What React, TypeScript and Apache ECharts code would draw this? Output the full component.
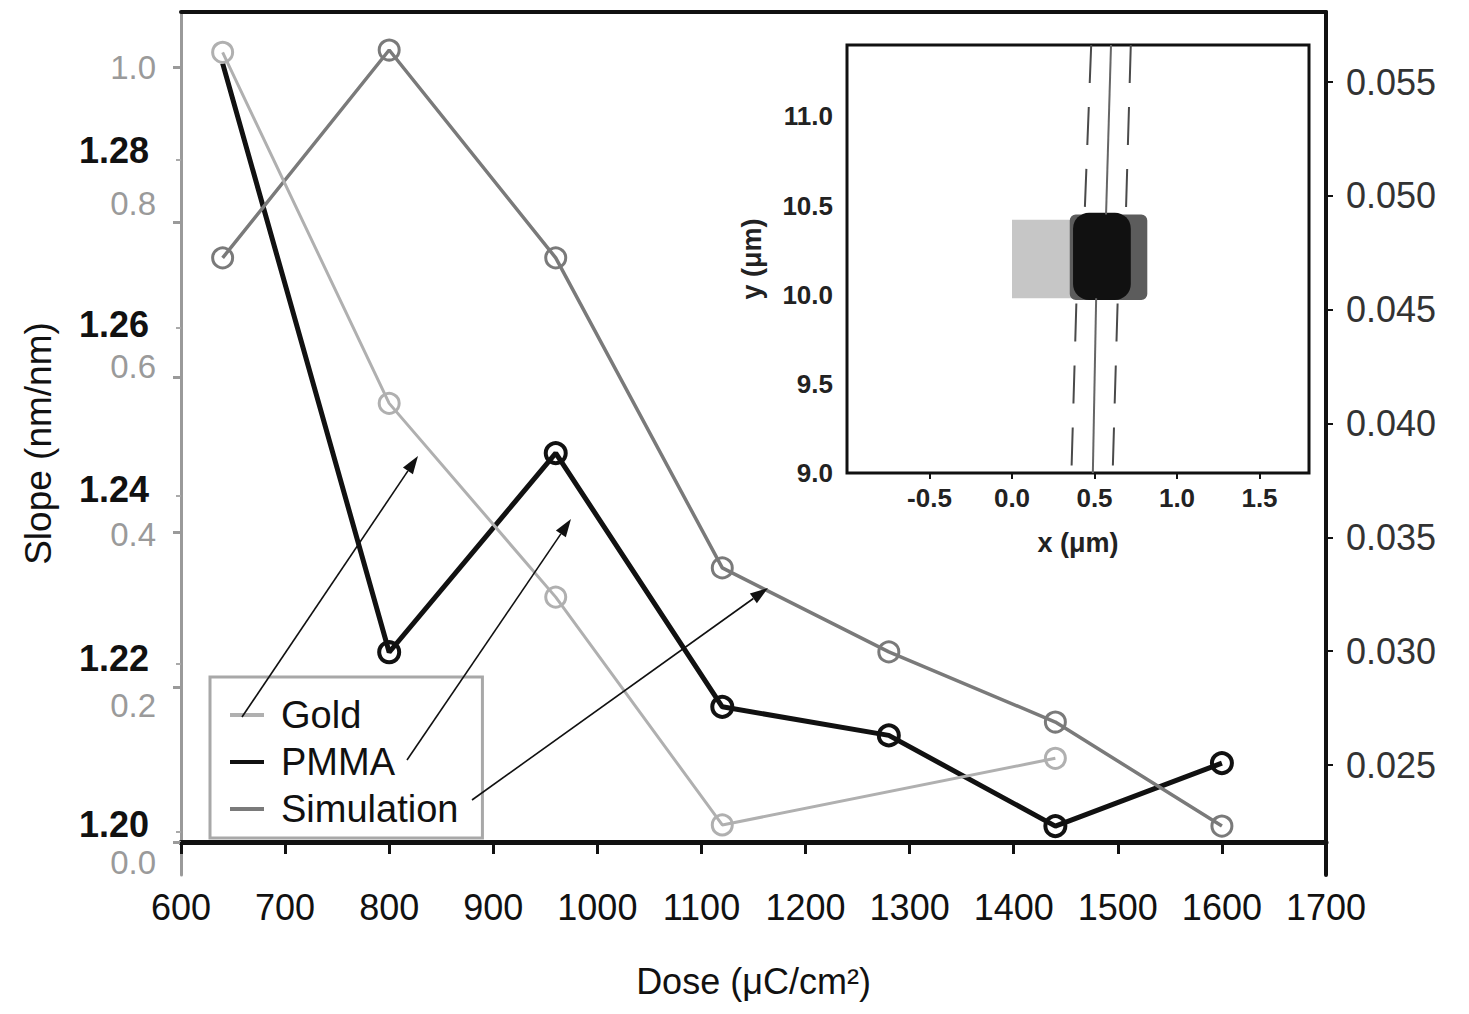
import React, { useEffect, useRef } from 'react';
import * as echarts from 'echarts';

// ---------- main chart data ----------
const doses = [640, 800, 960, 1120, 1280, 1440, 1600];
const goldDoses = [640, 800, 960, 1120, 1440];
const goldSlope = [1.019, 0.566, 0.316, 0.022, 0.108];
const pmmaSlope = [1.2915, 1.2214, 1.2451, 1.2149, 1.2115, 1.2007, 1.2082];
const simSlope = [0.04728, 0.05641, 0.04728, 0.03366, 0.02997, 0.02689, 0.02232];

const goldTicks = [0, 0.2, 0.4, 0.6, 0.8, 1.0];
const pmmaTicks = [1.2, 1.22, 1.24, 1.26, 1.28];
const simTicks = [0.025, 0.03, 0.035, 0.04, 0.045, 0.05, 0.055];

// ---------- inset data (x, y in µm) ----------
const insetXTicks = [-0.5, 0, 0.5, 1.0, 1.5];
const padX0 = [0.0, 0.35, 0.37];
const padX1 = [0.36, 0.82, 0.72];
const padY0 = [9.98, 9.97, 9.97];
const padY1 = [10.42, 10.45, 10.46];
const contourCenter = [
  [[0.6, 11.4], [0.57, 10.45]],
  [[0.51, 9.98], [0.49, 9.0]],
];
const contourLeft = [
  [[0.48, 11.4], [0.44, 10.45]],
  [[0.39, 9.95], [0.36, 9.0]],
];
const contourRight = [
  [[0.72, 11.4], [0.69, 10.45]],
  [[0.64, 9.95], [0.61, 9.0]],
];

const FONT = '"Liberation Sans", Arial, Helvetica, sans-serif';

// vertical nudges (px, + = down) of the printed tick labels, as in the scan
const goldLabelShift = [20, 18, 2, -11, -19, 0];
const pmmaLabelShift = [-7, -5, -6, -4, -10];

function shiftPadding(dy: number) {
  return dy >= 0 ? [2 * dy, 0, 0, 0] : [0, 0, -2 * dy, 0];
}

function arrow(x1: number, y1: number, x2: number, y2: number) {
  const ang = Math.atan2(y2 - y1, x2 - x1);
  const L = 18;
  const W = 6;
  const bx = x2 - L * Math.cos(ang);
  const by = y2 - L * Math.sin(ang);
  const nx = -Math.sin(ang);
  const ny = Math.cos(ang);
  return [
    {
      type: 'line',
      shape: { x1, y1, x2: bx, y2: by },
      style: { stroke: '#111', lineWidth: 1.6 },
      z: 20,
    },
    {
      type: 'polygon',
      shape: {
        points: [
          [x2, y2],
          [bx + nx * W, by + ny * W],
          [bx - nx * W, by - ny * W],
        ],
      },
      style: { fill: '#111' },
      z: 20,
    },
  ];
}

export default function App() {
  const ref = useRef<HTMLDivElement>(null);

  useEffect(() => {
    if (!ref.current) return;
    const chart = echarts.init(ref.current, undefined, { renderer: 'svg' });

    const padColors = ['#c6c6c6', '#5c5c5c', '#111111'];
    const padRadius = [0, 6, 16];

    const goldRich: any = {};
    goldTicks.forEach((_, i) => {
      goldRich['g' + i] = {
        fontSize: 33,
        color: '#9a9a9a',
        fontFamily: FONT,
        padding: shiftPadding(goldLabelShift[i]),
      };
    });
    const pmmaRich: any = {};
    pmmaTicks.forEach((_, i) => {
      pmmaRich['p' + i] = {
        fontSize: 36,
        fontWeight: 'bold',
        color: '#111',
        fontFamily: FONT,
        padding: shiftPadding(pmmaLabelShift[i]),
      };
    });
    const idxOf = (arr: number[], v: number) => arr.findIndex((t) => Math.abs(t - v) < 1e-9);

    const contourSeries: any[] = [];
    const addContour = (segs: number[][][], dashed: boolean) => {
      segs.forEach((seg) => {
        contourSeries.push({
          type: 'line',
          xAxisIndex: 2,
          yAxisIndex: 3,
          data: seg,
          symbol: 'none',
          silent: true,
          z: 6,
          lineStyle: {
            color: dashed ? '#4a4a4a' : '#666',
            width: 2,
            type: dashed ? [38, 24] : 'solid',
          },
        });
      });
    };
    addContour(contourCenter, false);
    addContour(contourLeft, true);
    addContour(contourRight, true);

    const option: any = {
      animation: false,
      backgroundColor: '#ffffff',
      textStyle: { fontFamily: FONT },
      grid: [
        { left: 181, top: 12, width: 1145, height: 863 },
        {
          left: 847,
          top: 45,
          width: 462,
          height: 428,
          show: true,
          backgroundColor: '#ffffff',
          borderColor: '#111',
          borderWidth: 3,
          z: 4,
        },
      ],
      legend: {
        left: 210,
        top: 677,
        orient: 'vertical',
        padding: [19, 24, 10, 20],
        itemGap: 9,
        itemWidth: 34,
        itemHeight: 4,
        borderColor: '#a8a8a8',
        borderWidth: 3,
        textStyle: { fontSize: 38, color: '#111', fontFamily: FONT, padding: [0, 0, 0, 12] },
        data: [
          { name: 'Gold', icon: 'rect', itemStyle: { color: '#b0b0b0', borderWidth: 0 } },
          { name: 'PMMA', icon: 'rect', itemStyle: { color: '#111', borderWidth: 0 } },
          { name: 'Simulation', icon: 'rect', itemStyle: { color: '#7a7a7a', borderWidth: 0 } },
        ],
      },
      xAxis: [
        {
          gridIndex: 0,
          type: 'value',
          min: 600,
          max: 1700,
          interval: 100,
          position: 'bottom',
          axisLine: { show: true, lineStyle: { color: '#111', width: 5 } },
          axisTick: { show: true, length: 12, lineStyle: { color: '#111', width: 3 } },
          axisLabel: {
            fontSize: 36,
            color: '#111',
            margin: 14,
            fontFamily: FONT,
            formatter: (v: number) => String(v),
          },
          splitLine: { show: false },
          name: 'Dose (μC/cm²)',
          nameLocation: 'middle',
          nameGap: 88,
          nameTextStyle: { fontSize: 36, color: '#111', fontFamily: FONT },
        },
        {
          gridIndex: 0,
          type: 'value',
          min: 600,
          max: 1700,
          interval: 100,
          position: 'top',
          axisLine: { show: true, lineStyle: { color: '#111', width: 4 } },
          axisTick: { show: false },
          axisLabel: { show: false },
          splitLine: { show: false },
        },
        {
          gridIndex: 1,
          type: 'value',
          min: -1.0,
          max: 1.8,
          interval: 0.5,
          axisLine: { show: false },
          axisTick: { show: true, length: 6, customValues: insetXTicks, lineStyle: { color: '#111', width: 2 } },
          axisLabel: {
            customValues: insetXTicks,
            formatter: (v: number) => v.toFixed(1),
            fontSize: 26,
            fontWeight: 'bold',
            color: '#222',
            margin: 12,
            fontFamily: FONT,
          },
          splitLine: { show: false },
          name: 'x (μm)',
          nameLocation: 'middle',
          nameGap: 56,
          nameTextStyle: { fontSize: 27, fontWeight: 'bold', color: '#222', fontFamily: FONT },
        },
      ],
      yAxis: [
        {
          gridIndex: 0,
          type: 'value',
          min: -0.04258,
          max: 1.071,
          position: 'left',
          axisLine: { show: true, lineStyle: { color: '#9a9a9a', width: 3 } },
          axisTick: { show: true, customValues: goldTicks, length: 8, lineStyle: { color: '#9a9a9a', width: 3 } },
          axisLabel: {
            customValues: goldTicks,
            formatter: (v: number) => `{g${idxOf(goldTicks, v)}|${v.toFixed(1)}}`,
            rich: goldRich,
            fontSize: 33,
            color: '#9a9a9a',
            margin: 25,
            fontFamily: FONT,
          },
          splitLine: { show: false },
        },
        {
          gridIndex: 0,
          type: 'value',
          min: 1.19488,
          max: 1.29762,
          position: 'left',
          axisLine: { show: false },
          axisTick: { show: true, customValues: pmmaTicks, length: 5, lineStyle: { color: '#aaa', width: 2 } },
          axisLabel: {
            customValues: pmmaTicks,
            formatter: (v: number) => `{p${idxOf(pmmaTicks, v)}|${v.toFixed(2)}}`,
            rich: pmmaRich,
            fontSize: 36,
            fontWeight: 'bold',
            color: '#111',
            margin: 32,
            fontFamily: FONT,
          },
          splitLine: { show: false },
          name: 'Slope (nm/nm)',
          nameLocation: 'middle',
          nameGap: 124,
          nameTextStyle: { fontSize: 37, color: '#111', fontFamily: FONT },
        },
        {
          gridIndex: 0,
          type: 'value',
          min: 0.02017,
          max: 0.05808,
          position: 'right',
          axisLine: { show: true, lineStyle: { color: '#111', width: 4 } },
          axisTick: { show: true, customValues: simTicks, length: 7, lineStyle: { color: '#111', width: 2 } },
          axisLabel: {
            customValues: simTicks,
            formatter: (v: number) => v.toFixed(3),
            fontSize: 36,
            color: '#333',
            margin: 20,
            fontFamily: FONT,
          },
          splitLine: { show: false },
        },
        {
          gridIndex: 1,
          type: 'value',
          min: 9.0,
          max: 11.4,
          interval: 0.5,
          axisLine: { show: false },
          axisTick: { show: true, length: 6, lineStyle: { color: '#111', width: 2 } },
          axisLabel: {
            formatter: (v: number) => v.toFixed(1),
            showMaxLabel: false,
            fontSize: 26,
            fontWeight: 'bold',
            color: '#222',
            margin: 14,
            fontFamily: FONT,
          },
          splitLine: { show: false },
          name: 'y (μm)',
          nameLocation: 'middle',
          nameGap: 82,
          nameTextStyle: { fontSize: 27, fontWeight: 'bold', color: '#222', fontFamily: FONT },
        },
      ],
      series: [
        {
          name: 'Gold',
          type: 'line',
          xAxisIndex: 0,
          yAxisIndex: 0,
          data: goldDoses.map((d, i) => [d, goldSlope[i]]),
          symbol: 'circle',
          symbolSize: 20,
          z: 3,
          lineStyle: { color: '#b0b0b0', width: 3 },
          itemStyle: { color: 'rgba(0,0,0,0)', borderColor: '#b0b0b0', borderWidth: 3 },
        },
        {
          name: 'PMMA',
          type: 'line',
          xAxisIndex: 0,
          yAxisIndex: 1,
          data: doses.map((d, i) =>
            i === 0 ? { value: [d, pmmaSlope[i]], symbol: 'none' } : [d, pmmaSlope[i]]
          ),
          symbol: 'circle',
          symbolSize: 20,
          z: 2,
          lineStyle: { color: '#111', width: 5 },
          itemStyle: { color: 'rgba(0,0,0,0)', borderColor: '#111', borderWidth: 4 },
        },
        {
          name: 'Simulation',
          type: 'line',
          xAxisIndex: 0,
          yAxisIndex: 2,
          data: doses.map((d, i) => [d, simSlope[i]]),
          symbol: 'circle',
          symbolSize: 20,
          z: 2,
          lineStyle: { color: '#7a7a7a', width: 3.5 },
          itemStyle: { color: 'rgba(0,0,0,0)', borderColor: '#7a7a7a', borderWidth: 3 },
        },
        {
          type: 'custom',
          xAxisIndex: 2,
          yAxisIndex: 3,
          silent: true,
          z: 5,
          data: padX0.map((x0, i) => [x0, padX1[i], padY0[i], padY1[i]]),
          encode: { x: [0, 1], y: [2, 3] },
          renderItem: (params: any, api: any) => {
            const p0 = api.coord([api.value(0), api.value(3)]);
            const p1 = api.coord([api.value(1), api.value(2)]);
            return {
              type: 'rect',
              shape: {
                x: p0[0],
                y: p0[1],
                width: p1[0] - p0[0],
                height: p1[1] - p0[1],
                r: padRadius[params.dataIndex],
              },
              style: { fill: padColors[params.dataIndex] },
            };
          },
        },
        ...contourSeries,
      ],
      graphic: [
        ...arrow(242, 717, 418, 456),
        ...arrow(407, 760, 571, 519),
        ...arrow(472, 800, 768, 588),
      ],
    };

    chart.setOption(option);
    return () => chart.dispose();
  }, []);

  return (
    <div
      ref={ref}
      style={{ position: 'absolute', left: 0, top: 0, width: 1469, height: 1014, background: '#fff' }}
    />
  );
}
